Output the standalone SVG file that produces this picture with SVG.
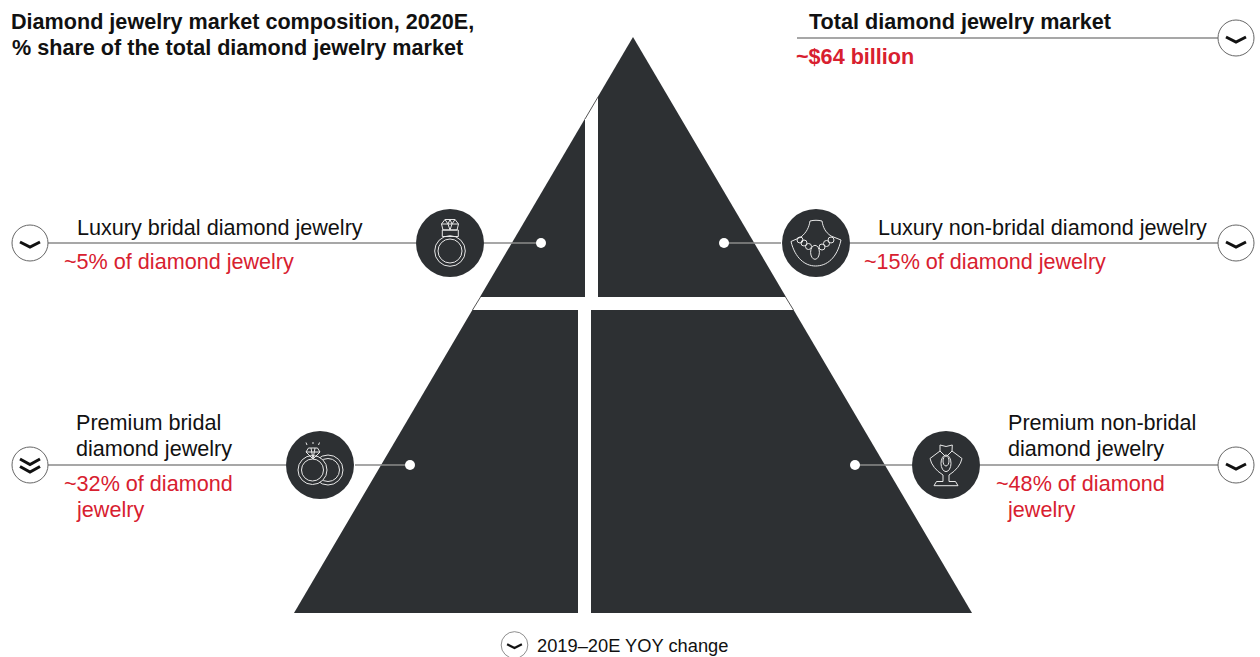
<svg xmlns="http://www.w3.org/2000/svg" width="1260" height="657" viewBox="0 0 1260 657">
<style>
text{font-family:"Liberation Sans",Arial,sans-serif;font-size:21.6px;fill:#111}
.b{font-weight:bold}
.r{fill:#d8202f}
.ln{stroke:#8a8a8a;stroke-width:1.5;fill:none}
.badge{fill:#2d3033}
.ic{fill:none;stroke:#e8e8e8;stroke-width:1;stroke-linejoin:round}
.dot{fill:#fff}
.circ{fill:#fff;stroke:#666;stroke-width:1}
.chev{fill:none;stroke:#111;stroke-width:3;stroke-linejoin:miter}
</style>
<defs>
<g id="down"><circle class="circ" r="18"/><path class="chev" d="M-10-1L0 4L10-1"/></g>
<g id="ddown"><circle class="circ" r="18"/><path class="chev" d="M-10-6L0-.5L10-6M-10 1.500L0 7L10 1.500"/></g>
</defs>
<g id="pyramid">
<path fill="#2d3033" d="M633 37L972 613H294Z"/>
<rect x="470" y="297" width="326" height="13" fill="#fff"/>
<rect x="585" y="97" width="13" height="200.500" fill="#fff"/>
<rect x="578" y="309.500" width="13" height="303.500" fill="#fff"/>
<path d="M598 97L585 119M480.500 297L472.500 310M785.500 297L793.500 310" stroke="#555" stroke-width="1" fill="none"/>
</g>
<g id="connectors">
<path class="ln" d="M48 243H416M484 243H541"/>
<path class="ln" d="M724 243H781M850 243H1219"/>
<path class="ln" d="M48 465H286M355 465H410"/>
<path class="ln" d="M855 465H912M980 465H1219"/>
<path class="ln" d="M797 38H1219"/>
</g>
<g id="title"><text class="b" x="11" y="29">Diamond jewelry market composition, 2020E,</text><text class="b" x="12" y="55">% share of the total diamond jewelry market</text></g>
<g id="total"><text class="b" x="809" y="29">Total diamond jewelry market</text><text class="b r" x="796" y="64">~$64 billion</text><use href="#down" x="1236" y="38"/></g>
<g id="luxury-bridal">
<use href="#down" x="30" y="243"/>
<text x="77" y="235">Luxury bridal diamond jewelry</text><text class="r" x="64" y="269">~5% of diamond jewelry</text>
<circle class="badge" cx="450" cy="243" r="34"/>
<g class="ic"><circle cx="450" cy="251" r="15.300"/><circle cx="450" cy="251" r="12"/><rect x="442.300" y="230" width="16" height="6.500"/><path d="M443 230L441.500 224L445 219.500H455L458.500 224L457 230ZM441.500 224H458.500M445 219.500L448 224L450 230L452 224L455 219.500M448 224L450 219.500L452 224"/></g>
<circle class="dot" cx="541" cy="243" r="5"/>
</g>
<g id="luxury-nonbridal">
<use href="#down" x="1236" y="243"/>
<text x="878" y="235">Luxury non-bridal diamond jewelry</text><text class="r" x="864" y="269">~15% of diamond jewelry</text>
<circle class="badge" cx="816" cy="243" r="34"/>
<g class="ic"><path d="M791 241.500C795 258 805 266 815.500 266C827 266 837 258 841 240L831 236C825 232 823 227 822 221C818 220 814 220 810 221C809 227 807 232 801 237Z"/><ellipse cx="815" cy="252.300" rx="4.400" ry="7"/><circle cx="800" cy="240" r="3"/><circle cx="804" cy="243" r="3"/><circle cx="808.500" cy="246.500" r="3"/><circle cx="822" cy="247" r="3"/><circle cx="826.500" cy="243.500" r="3"/><circle cx="831" cy="240" r="3"/></g>
<circle class="dot" cx="724" cy="243" r="5"/>
</g>
<g id="premium-bridal">
<use href="#ddown" x="30" y="465"/>
<text x="76" y="430">Premium bridal</text><text x="76" y="456">diamond jewelry</text><text class="r" x="64" y="491">~32% of diamond</text><text class="r" x="77" y="517">jewelry</text>
<circle class="badge" cx="320" cy="465" r="34"/>
<g class="ic"><circle cx="328" cy="470" r="15"/><circle cx="328" cy="470" r="11.500"/><circle cx="312.500" cy="470" r="14.500" fill="#2d3033"/><circle cx="312.500" cy="470" r="11"/><path d="M313 459L306 452L308.500 448H317.500L320 452ZM306 452H320M311 448L313 459L315 448M307 445L306 442.500M313 444V442M318.500 445L319.500 442.500"/></g>
<circle class="dot" cx="410" cy="465" r="5"/>
</g>
<g id="premium-nonbridal">
<use href="#down" x="1236" y="465"/>
<text x="1008" y="430">Premium non-bridal</text><text x="1008" y="456">diamond jewelry</text><text class="r" x="996" y="491">~48% of diamond</text><text class="r" x="1008" y="517">jewelry</text>
<circle class="badge" cx="946" cy="465" r="34"/>
<g class="ic"><path d="M940 445Q946 448 952.300 445L952 451L962 458.500Q960 468 949 475V481.500H955.500L958 485.700H934L936.500 481.500H943V475Q932 468 930 458.500L940 451Z"/><ellipse cx="946" cy="463.300" rx="5" ry="8.300"/><ellipse cx="946" cy="461" rx="3" ry="5"/><path d="M940 451L945 456M952 451L947 456"/></g>
<circle class="dot" cx="855" cy="465" r="5"/>
</g>
<g id="legend"><use href="#down" transform="translate(514.500 645) scale(.74)"/><text x="537" y="652" style="font-size:18.3px">2019–20E YOY change</text></g>
</svg>
